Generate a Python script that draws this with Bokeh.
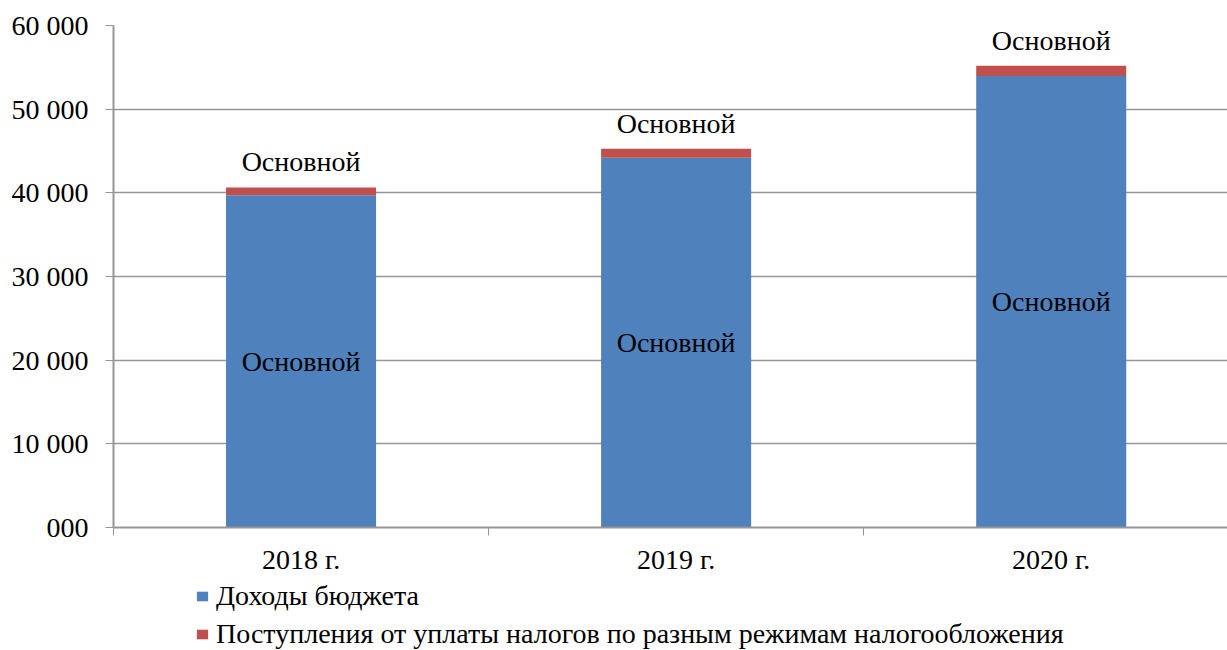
from bokeh.plotting import figure
from bokeh.layouts import column
from bokeh.models import ColumnDataSource, FixedTicker, Legend, LegendItem, Range1d
from bokeh.core.properties import value
from bokeh.embed import file_html
from bokeh.resources import INLINE

categories = ["2018 г.", "2019 г.", "2020 г."]
budget_income = [39700, 44200, 53950]
tax_receipts = [950, 1080, 1230]
series_names = ["Доходы бюджета", "Поступления от уплаты налогов по разным режимам налогообложения"]
bar_label = "Основной"
y_ticks = [0, 10000, 20000, 30000, 40000, 50000, 60000]
y_tick_labels = ["000", "10 000", "20 000", "30 000", "40 000", "50 000", "60 000"]

FONT = "Liberation Serif"
FS = "28px"
BLUE = "#4F81BD"
RED = "#C0504D"
GRID = "#969696"

xs = list(range(len(categories)))
totals = [b + t for b, t in zip(budget_income, tax_receipts)]
src = ColumnDataSource(dict(
    x=xs, budget=budget_income, tax=tax_receipts,
    mid=[b / 2 for b in budget_income], top=totals,
    lab=[bar_label] * len(xs),
))

p = figure(width=1227, height=580, output_backend="svg", toolbar_location=None,
           x_range=Range1d(-0.5, 2.47), y_range=Range1d(0, 60000),
           min_border_left=113, min_border_top=25, min_border_right=0, min_border_bottom=53)
p.outline_line_color = None
p.background_fill_color = "white"

rs = p.vbar_stack(["budget", "tax"], x="x", width=0.4, source=src,
                  color=[BLUE, RED], line_color=None)

p.text(x="x", y="mid", text="lab", source=src, text_align="center", text_baseline="middle",
       text_font=value(FONT), text_font_size=FS, text_color="black")
p.text(x="x", y="top", text="lab", source=src, text_align="center", text_baseline="bottom",
       y_offset=-10, text_font=value(FONT), text_font_size=FS, text_color="black")

# y axis
p.yaxis.ticker = FixedTicker(ticks=y_ticks)
p.yaxis.major_label_overrides = {t: l for t, l in zip(y_ticks, y_tick_labels)}
p.yaxis.minor_tick_line_color = None
p.yaxis.major_tick_in = 0
p.yaxis.major_tick_out = 8
p.yaxis.major_tick_line_color = GRID
p.yaxis.axis_line_color = GRID
p.yaxis.axis_line_width = 2
p.yaxis.major_label_standoff = 17
p.yaxis.major_label_text_font = FONT
p.yaxis.major_label_text_font_size = FS
p.yaxis.major_label_text_color = "black"

# x axis
p.xaxis.ticker = FixedTicker(ticks=xs, minor_ticks=[-0.5, 0.5, 1.5, 2.5])
p.xaxis.major_label_overrides = {i: c for i, c in enumerate(categories)}
p.xaxis.major_tick_line_color = None
p.xaxis.major_tick_in = 0
p.xaxis.major_tick_out = 0
p.xaxis.minor_tick_line_color = GRID
p.xaxis.minor_tick_in = 0
p.xaxis.minor_tick_out = 8
p.xaxis.axis_line_color = GRID
p.xaxis.axis_line_width = 2
p.xaxis.major_label_standoff = 8
p.xaxis.major_label_text_font = FONT
p.xaxis.major_label_text_font_size = FS
p.xaxis.major_label_text_color = "black"

p.xgrid.grid_line_color = None
p.ygrid.grid_line_color = GRID
p.ygrid.grid_line_width = 1.5

# legend panel: same series, drawn outside its visible x range so only the legend shows
p2 = figure(width=1227, height=70, output_backend="svg", toolbar_location=None,
            x_range=Range1d(-10, -9), y_range=Range1d(0, 60000),
            x_axis_type=None, y_axis_type=None,
            min_border_left=0, min_border_top=0, min_border_right=0, min_border_bottom=0)
p2.outline_line_color = None
p2.border_fill_color = "white"
p2.background_fill_color = "white"
rs2 = p2.vbar_stack(["budget", "tax"], x="x", width=0.4, source=src,
                    color=[BLUE, RED], line_color=None)

legend = Legend(items=[LegendItem(label=series_names[0], renderers=[rs2[0]]),
                       LegendItem(label=series_names[1], renderers=[rs2[1]])],
                orientation="vertical", location=(82, 0))
legend.border_line_color = None
legend.background_fill_alpha = 0
legend.label_text_font = FONT
legend.label_text_font_size = FS
legend.label_text_color = "black"
legend.glyph_width = 14
legend.glyph_height = 12
legend.label_height = 28
legend.label_standoff = 7
legend.spacing = 6
legend.padding = 0
legend.margin = 0
p2.add_layout(legend)

layout = column(p, p2, spacing=0)
open("out.html", "w").write(file_html(layout, INLINE))
